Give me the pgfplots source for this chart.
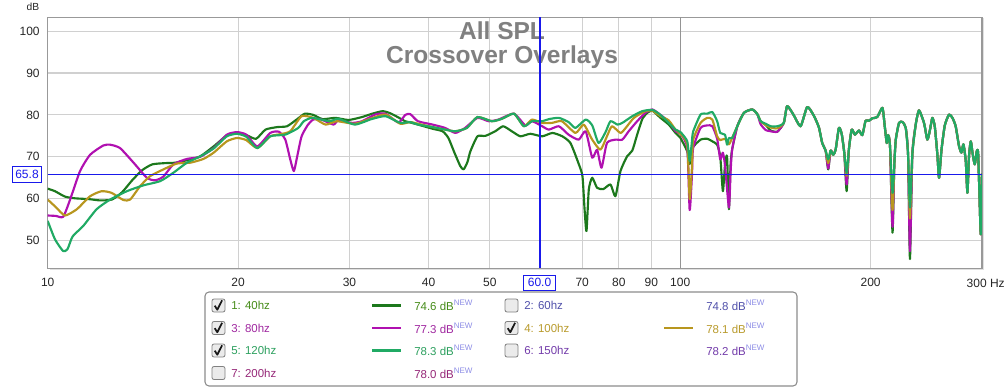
\documentclass[border=0pt]{standalone}
\usepackage{pgfplots}
\pgfplotsset{compat=1.18}
\usepackage{pgfplotstable}
\usepackage{fontspec}
\setmainfont{Liberation Sans}
\definecolor{cDG}{RGB}{28,120,28}
\definecolor{cMG}{RGB}{176,16,176}
\definecolor{cGD}{RGB}{184,150,30}
\definecolor{cTL}{RGB}{32,170,100}
\definecolor{cblue}{RGB}{25,25,235}
\definecolor{gridc}{RGB}{208,208,208}
\definecolor{titlegray}{RGB}{128,128,128}
\definecolor{l1}{RGB}{70,140,25}
\definecolor{l2}{RGB}{80,80,170}
\definecolor{l3}{RGB}{160,40,160}
\definecolor{l4}{RGB}{185,155,45}
\definecolor{l5}{RGB}{45,160,95}
\definecolor{l6}{RGB}{115,60,170}
\definecolor{l7}{RGB}{150,40,120}
\definecolor{newc}{RGB}{140,140,230}

\pgfplotstableread{
f dB
10 62.4
10.27 61.8
10.65 60.5
11.05 60.1
11.63 59.9
12.1 59.6
12.63 59.8
13.1 61.5
13.6 64.4
14.1 66.8
14.63 68.2
15.33 68.5
15.9 68.6
16.62 69.2
17.42 70.1
18.3 72.5
19.2 75.1
19.92 75.7
20.6 75.2
21.35 74.3
22.1 76.5
23.06 77.1
23.9 77.3
24.8 79.0
25.5 80.3
26.3 80.0
27.2 79.0
28.5 79.3
29.9 78.8
31.4 79.5
32.6 80.3
33.85 80.9
34.8 80.4
35.85 79.4
36.75 78.5
37.43 78.2
38.5 77.7
40.6 76.7
42.1 76.1
43.0 74.5
44.1 70.5
44.91 67.8
45.45 67.0
46.1 68.8
46.58 71.3
47.8 74.9
49.2 75.0
51.0 76.1
52.5 77.3
54.3 76.0
55.89 74.9
57.96 75.5
60.5 74.9
62.8 75.7
65.1 74.9
67.06 73.3
69.0 68.6
70.06 65.4
70.6 57.5
71.1 52.3
71.7 62.2
72.6 65.0
73.9 62.6
75.6 62.3
77.58 63.4
79.0 60.6
80.46 66.6
82.4 70.1
84.0 71.5
85.5 75.3
87.1 79.0
88.7 80.5
90.4 81.0
93.08 79.3
95.9 77.7
98.3 75.7
100.1 74.5
102.6 71.3
103.0 69.5
103.5 68.3
104.4 72.0
107.7 74.1
110.4 74.3
112.4 73.7
114.4 72.9
115.7 70.0
116.8 61.8
117.7 68.0
118.6 70.1
119.4 57.5
120.1 68.0
120.8 71.7
123.1 77.3
126.1 80.5
130.0 81.3
132.4 80.2
134.0 78.5
136.5 77.6
139.0 76.3
142.4 76.0
145.8 78.1
147.6 82.1
151.1 80.0
155.0 77.3
158.8 81.9
162.7 79.8
165.7 77.0
167.7 73.3
169.8 71.5
171.4 67.0
172.9 71.5
174.6 70.5
176.1 71.7
178.2 76.9
180.0 75.5
181.7 71.0
183.3 61.8
184.8 71.7
186.7 76.5
188.9 75.3
191.7 76.3
194.1 75.2
196.4 78.6
198.8 78.6
201.2 79.2
204.9 79.5
208.8 81.7
210.5 77.5
212.1 73.3
213.2 75.2
214.6 72.7
216.6 51.9
218.0 68.0
219.2 74.1
221.8 78.1
224.6 78.3
227.3 76.9
229.2 70.6
230.8 45.6
232.8 70.6
235.7 77.7
238.5 81.1
242.9 78.1
245.9 74.1
248.3 76.5
250.4 79.3
252.6 77.3
255.0 70.6
256.6 65.0
258.9 71.7
262.0 77.5
266.1 80.1
269.4 79.3
272.6 77.3
276.0 72.5
278.4 71.0
280.4 73.0
282.8 69.0
284.5 61.4
286.2 70.3
288.0 73.7
289.8 71.0
292.2 68.2
294.4 71.4
295.8 71.0
297.2 61.4
298.7 51.5
300 66.0
}\tdg

\pgfplotstableread{
f dB
10 56.0
10.3 55.9
10.58 55.7
10.85 59.8
11.25 66.6
11.67 70.5
12.24 72.7
12.55 72.9
13.01 72.1
13.67 68.6
14.35 65.0
14.79 64.4
15.24 65.3
15.8 68.2
16.6 69.5
17.42 70.0
18.3 72.1
19.2 75.3
19.92 75.9
20.6 75.3
21.45 72.5
22.48 75.7
23.2 76.0
23.75 74.1
24.18 69.4
24.5 66.6
24.8 70.1
25.2 74.9
25.8 77.7
26.3 78.9
26.97 79.0
28.3 77.7
28.8 78.7
30.3 78.1
31.4 78.5
32.95 80.1
34.2 80.3
35.85 78.2
36.75 80.0
37.43 80.2
38.5 78.5
40.6 77.7
42.5 76.9
44.1 75.7
45.7 76.9
47.8 79.3
49.8 78.5
51.6 78.9
54.6 80.3
56.9 77.5
58.3 78.5
60.5 77.3
62.0 76.5
64.3 77.3
66.6 75.3
69.1 74.1
70.9 76.1
72.6 69.8
73.9 71.7
75.1 67.4
76.6 73.3
79.0 74.1
81.0 74.1
82.9 76.1
85.5 78.5
88.1 80.5
90.4 81.3
93.08 80.0
95.9 78.4
98.3 76.1
100.1 75.5
102.6 72.1
103.5 57.3
104.4 66.0
104.8 72.0
107.7 76.9
110.4 77.5
112.4 77.3
114.4 74.3
115.7 69.4
116.8 71.0
117.7 68.0
119.4 57.9
120.1 66.0
120.8 71.7
123.1 77.3
126.1 80.5
130.0 81.3
132.4 80.2
134.0 77.8
136.5 76.4
139.0 76.1
142.4 76.0
145.8 78.1
147.6 82.1
151.1 80.0
155.0 77.3
158.8 81.9
162.7 79.8
165.7 77.0
167.7 73.3
169.8 71.5
171.4 67.2
172.9 71.5
174.6 70.5
176.1 71.7
178.2 76.9
180.0 75.5
181.7 71.0
183.3 63.4
184.8 71.7
186.7 76.5
188.9 75.3
191.7 76.3
194.1 75.2
196.4 78.6
198.8 78.6
201.2 79.2
204.9 79.5
208.8 81.7
210.5 77.5
212.1 73.3
213.2 75.2
214.6 72.7
216.6 53.3
218.0 68.0
219.2 74.1
221.8 78.1
224.6 78.3
227.3 76.9
229.2 70.6
230.8 47.5
232.8 70.6
235.7 77.7
238.5 81.1
242.9 78.1
245.9 74.1
248.3 76.5
250.4 79.3
252.6 77.3
255.0 70.6
256.6 65.0
258.9 71.7
262.0 77.5
266.1 80.1
269.4 79.3
272.6 77.3
276.0 72.5
278.4 71.0
280.4 73.0
282.8 69.0
284.5 61.4
286.2 70.3
288.0 73.7
289.8 71.0
292.2 68.2
294.4 71.4
295.8 71.0
297.2 61.4
298.7 51.5
300 66.0
}\tmg

\pgfplotstableread{
f dB
10 59.8
10.3 58.0
10.65 56.0
11.12 57.5
11.67 60.6
12.17 61.8
12.62 61.4
13.17 59.7
13.5 59.8
14.0 63.0
14.52 65.4
15.24 67.0
16.0 68.4
16.8 68.6
17.63 69.5
18.3 71.0
19.2 73.7
19.92 74.5
20.6 74.0
21.45 72.1
22.48 74.9
23.31 75.4
24.18 76.1
25.2 79.7
26.3 79.3
27.5 77.7
28.65 78.5
30.6 77.9
32.5 79.2
34.2 80.1
36.1 77.9
37.4 78.3
38.5 77.9
40.6 77.1
42.5 76.5
44.1 76.1
46.0 76.9
47.8 79.5
50.4 78.5
52.3 79.1
54.6 80.3
56.6 77.3
58.3 78.9
60.5 78.1
62.7 78.1
65.0 78.5
68.3 75.7
70.4 77.7
72.6 74.1
74.8 71.7
76.6 74.9
78.0 77.3
80.46 75.7
82.0 76.9
84.5 79.3
88.1 80.9
90.4 81.0
93.08 79.7
95.9 78.7
98.3 76.5
100.1 75.5
102.6 72.9
103.5 59.9
104.4 68.0
104.8 74.0
107.7 78.1
110.4 79.3
112.4 78.9
114.4 74.9
115.7 74.0
117.7 74.3
119.4 73.0
120.8 74.5
123.1 77.3
126.1 80.5
130.0 81.3
132.4 80.2
134.0 78.5
136.5 77.6
139.0 77.0
142.4 76.8
145.8 78.1
147.6 82.1
151.1 80.0
155.0 77.3
158.8 81.9
162.7 79.8
165.7 77.0
167.7 73.3
169.8 71.5
171.4 68.5
172.9 71.5
174.6 70.5
176.1 71.7
178.2 76.9
180.0 75.5
181.7 71.0
183.3 65.5
184.8 71.7
186.7 76.5
188.9 75.3
191.7 76.3
194.1 75.2
196.4 78.6
198.8 78.6
201.2 79.2
204.9 79.5
208.8 81.7
210.5 77.5
212.1 73.3
213.2 75.2
214.6 72.7
216.6 57.3
218.0 68.0
219.2 74.1
221.8 78.1
224.6 78.3
227.3 76.9
229.2 70.6
230.8 55.3
232.8 70.6
235.7 77.7
238.5 81.1
242.9 78.1
245.9 74.1
248.3 76.5
250.4 79.3
252.6 77.3
255.0 70.6
256.6 65.0
258.9 71.7
262.0 77.5
266.1 80.1
269.4 79.3
272.6 77.3
276.0 72.5
278.4 71.0
280.4 73.0
282.8 69.0
284.5 61.4
286.2 70.3
288.0 73.7
289.8 71.0
292.2 68.2
294.4 71.4
295.8 71.0
297.2 61.4
298.7 51.5
300 66.0
}\tgd

\pgfplotstableread{
f dB
10 54.7
10.27 50.3
10.58 47.5
10.75 48.0
10.95 51.0
11.38 53.5
11.95 57.5
12.55 59.8
13.34 61.8
14.17 63.2
15.06 64.2
15.8 66.2
16.6 68.6
17.42 70.1
18.3 72.0
19.2 74.9
19.92 75.5
20.6 74.8
21.45 72.1
22.48 74.9
23.75 75.3
24.9 76.9
25.4 78.5
26.2 79.3
27.9 78.5
28.8 79.1
30.6 77.7
32.5 79.0
34.2 79.7
36.1 78.1
37.4 78.3
38.5 77.7
40.6 77.1
42.5 76.5
44.1 76.1
46.0 76.9
47.8 79.5
50.4 78.5
52.3 79.1
54.6 80.3
56.6 77.3
58.3 78.5
60.5 78.5
62.0 79.0
64.3 79.3
66.6 78.3
68.3 76.9
70.9 78.9
72.6 77.5
74.3 73.3
76.2 75.9
77.58 78.5
79.6 77.7
81.0 78.1
84.0 79.7
87.1 80.9
90.4 81.2
93.08 80.0
95.9 78.1
98.3 76.5
100.1 75.9
102.6 73.7
103.5 69.0
104.4 74.0
104.8 76.0
107.7 80.1
110.4 80.3
112.4 80.7
114.4 78.5
115.7 75.7
117.7 75.3
118.6 72.9
119.4 74.5
120.8 74.5
123.1 77.3
126.1 80.5
130.0 81.3
132.4 80.2
134.0 78.5
136.5 77.9
139.0 77.3
142.4 77.3
145.8 78.1
147.6 82.1
151.1 80.0
155.0 77.3
158.8 81.9
162.7 79.8
165.7 77.0
167.7 73.3
169.8 71.5
171.4 69.4
172.9 71.5
174.6 70.5
176.1 71.7
178.2 76.9
180.0 75.5
181.7 71.0
183.3 66.2
184.8 71.7
186.7 76.5
188.9 75.3
191.7 76.3
194.1 75.2
196.4 78.6
198.8 78.6
201.2 79.2
204.9 79.5
208.8 81.7
210.5 77.5
212.1 73.3
213.2 75.2
214.6 72.7
216.6 61.4
218.0 68.0
219.2 74.1
221.8 78.1
224.6 78.3
227.3 76.9
229.2 70.6
230.8 57.9
232.8 70.6
235.7 77.7
238.5 81.1
242.9 78.1
245.9 74.1
248.3 76.5
250.4 79.3
252.6 77.3
255.0 70.6
256.6 65.0
258.9 71.7
262.0 77.5
266.1 80.1
269.4 79.3
272.6 77.3
276.0 72.5
278.4 71.0
280.4 73.0
282.8 69.0
284.5 61.4
286.2 70.3
288.0 73.7
289.8 71.0
292.2 68.2
294.4 71.4
295.8 71.0
297.2 61.4
298.7 51.5
300 66.0
}\ttl

\newcommand{\lfont}{\fontsize{8.6}{10}\selectfont}
\newcommand{\chkbox}[2]{\draw[rounded corners=1.5pt, draw=black!50, fill=black!8, line width=0.6pt] (#1-6.5,#2-6.5) rectangle (#1+6.5,#2+6.5);}
\newcommand{\chkmark}[2]{\draw[line width=1.3pt, black!90, line join=round] (#1-3.8,#2+0.2) -- (#1-1.2,#2+4.2) -- (#1+3.6,#2-5.2);}

\begin{document}
\begin{tikzpicture}
\path[use as bounding box] (0,0) rectangle (753.75pt,291.75pt);
% frame shadow
\fill[black!12] (37.3pt,89.0pt) rectangle (738.0pt,278.0pt);
\begin{axis}[
  at={(35.775pt,90.525pt)}, anchor=south west,
  scale only axis, width=700.7pt, height=188.25pt,
  xmode=log, xmin=10, xmax=300, ymin=43.4, ymax=103.3,
  axis background/.style={fill=white},
  xtick={10,20,30,40,50,70,80,90,100,200,300},
  xticklabels={10,20,30,40,50,70,80,90,100,200,{}},
  ytick={50,60,70,80,90,100},
  grid=major, major grid style={draw=gridc, line width=0.8pt},
  major tick length=0pt,
  axis line style={draw=black!40, line width=1.1pt},
  tick label style={font=\fontsize{9}{10}\selectfont, text=black!85},
  xticklabel style={yshift=-3.5pt},
  yticklabel style={xshift=-2.5pt},
  /pgf/number format/assume math mode=true,
  clip mode=individual,
  every axis plot/.append style={line width=1.6pt, line join=round, smooth, tension=0.35},
]
\draw[black!42, line width=0.9pt] (axis cs:100,43.4) -- (axis cs:100,103.3);
\node[anchor=base, font=\bfseries\fontsize{18.4}{20}\selectfont, text=titlegray] at (rel axis cs:0.4863,0.9124) {All SPL};
\node[anchor=base, font=\bfseries\fontsize{18.4}{20}\selectfont, text=titlegray] at (rel axis cs:0.4863,0.8167) {Crossover Overlays};
\addplot[cDG] table[x=f,y=dB] {\tdg};
\addplot[cMG] table[x=f,y=dB] {\tmg};
\addplot[cGD] table[x=f,y=dB] {\tgd};
\addplot[cTL] table[x=f,y=dB] {\ttl};
\draw[color=cblue, line width=0.9pt] (axis cs:10,65.8) -- (axis cs:300,65.8);
\draw[color=cblue, line width=1pt] (axis cs:60,43.4) -- (axis cs:60,103.3);
\end{axis}
\begin{scope}[x=0.75pt, y=-0.75pt, yshift=291.75pt]
\node[font=\fontsize{7.7}{9}\selectfont, text=black!85] at (33,7) {dB};
\node[anchor=west, font=\fontsize{9}{10}\selectfont, text=black!85] at (962,283.5) {300 Hz};
% cursor value boxes
\node[draw=cblue, fill=white, line width=0.7pt, inner sep=1.2pt, text=cblue, font=\fontsize{9}{10}\selectfont, minimum width=29*0.75pt, minimum height=16*0.75pt] at (27,174) {65.8};
\node[draw=cblue, fill=white, line width=0.7pt, inner sep=1.2pt, text=cblue, font=\fontsize{9}{10}\selectfont, minimum width=32*0.75pt, minimum height=15*0.75pt] at (539.5,282.5) {60.0};
% legend
\draw[rounded corners=3pt, draw=black!45, line width=0.8pt, fill=white] (205,292) rectangle (797,386);
\chkbox{218.5}{305.5}\chkmark{218.5}{305.5}
\chkbox{218.5}{328}\chkmark{218.5}{328}
\chkbox{218.5}{350.5}\chkmark{218.5}{350.5}
\chkbox{218.5}{373}
\chkbox{511.5}{305.5}
\chkbox{511.5}{328}\chkmark{511.5}{328}
\chkbox{511.5}{350.5}
\node[anchor=west, inner sep=0pt, text=l1, font=\lfont] at (231,305.5) {1: 40hz};
\node[anchor=west, inner sep=0pt, text=l3, font=\lfont] at (231,328) {3: 80hz};
\node[anchor=west, inner sep=0pt, text=l5, font=\lfont] at (231,350.5) {5: 120hz};
\node[anchor=west, inner sep=0pt, text=l7, font=\lfont] at (231,373) {7: 200hz};
\node[anchor=west, inner sep=0pt, text=l2, font=\lfont] at (524,305.5) {2: 60hz};
\node[anchor=west, inner sep=0pt, text=l4, font=\lfont] at (524,328) {4: 100hz};
\node[anchor=west, inner sep=0pt, text=l6, font=\lfont] at (524,350.5) {6: 150hz};
\draw[cDG, line width=1.6pt] (372,305.5) -- (401,305.5);
\draw[cMG, line width=1.6pt] (372,328) -- (401,328);
\draw[cTL, line width=1.6pt] (372,350.5) -- (401,350.5);
\draw[cGD, line width=1.6pt] (664,328) -- (693,328);
\node[anchor=west, inner sep=0pt, text=l1, font=\lfont] at (414,305.5) {74.6 dB\textsuperscript{\color{newc}NEW}};
\node[anchor=west, inner sep=0pt, text=l3, font=\lfont] at (414,328) {77.3 dB\textsuperscript{\color{newc}NEW}};
\node[anchor=west, inner sep=0pt, text=l5, font=\lfont] at (414,350.5) {78.3 dB\textsuperscript{\color{newc}NEW}};
\node[anchor=west, inner sep=0pt, text=l7, font=\lfont] at (414,373) {78.0 dB\textsuperscript{\color{newc}NEW}};
\node[anchor=west, inner sep=0pt, text=l2, font=\lfont] at (706,305.5) {74.8 dB\textsuperscript{\color{newc}NEW}};
\node[anchor=west, inner sep=0pt, text=l4, font=\lfont] at (706,328) {78.1 dB\textsuperscript{\color{newc}NEW}};
\node[anchor=west, inner sep=0pt, text=l6, font=\lfont] at (706,350.5) {78.2 dB\textsuperscript{\color{newc}NEW}};
\end{scope}
\end{tikzpicture}
\end{document}
